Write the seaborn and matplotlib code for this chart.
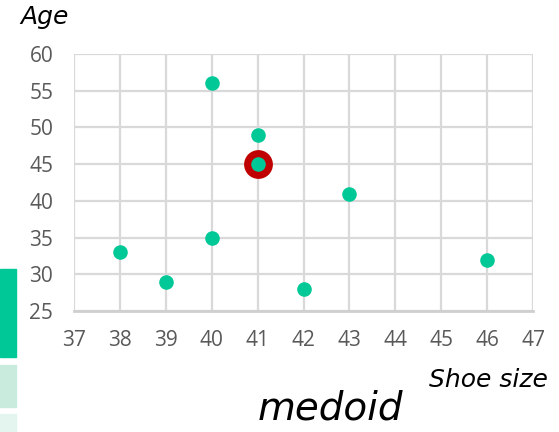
import matplotlib
matplotlib.use("Agg")
import matplotlib.pyplot as plt
import matplotlib.patches as mpatches
import seaborn as sns
import pandas as pd

shoe_size = [38, 39, 40, 40, 41, 41, 42, 43, 46]
age = [33, 29, 56, 35, 49, 45, 28, 41, 32]
medoid_shoe = [41]
medoid_age = [45]
x_ticks = list(range(37, 48))
y_ticks = list(range(25, 61, 5))

GREEN = "#00C896"
RED = "#C00000"
GRID = "#D9D9D9"
TICK = "#595959"

sns.set_theme(style="white")
plt.rcParams["font.family"] = ["Open Sans", "DejaVu Sans"]

fig = plt.figure(figsize=(5.59, 4.32), dpi=100)
ax = fig.add_axes([74 / 559, 1 - 311 / 432, 459 / 559, 257 / 432])

df = pd.DataFrame({"shoe": shoe_size, "age": age})
mdf = pd.DataFrame({"shoe": medoid_shoe, "age": medoid_age})

sns.scatterplot(data=mdf, x="shoe", y="age", ax=ax, s=430, color=RED,
                linewidth=0, zorder=3, legend=False)
sns.scatterplot(data=df, x="shoe", y="age", ax=ax, s=110, color=GREEN,
                linewidth=0, zorder=4, legend=False)

ax.set_xlim(37, 47)
ax.set_ylim(25, 60)
ax.set_xticks(x_ticks)
ax.set_yticks(y_ticks)
ax.grid(True, color=GRID, linewidth=1.6)
ax.set_axisbelow(True)
for side in ["top", "right", "left"]:
    ax.spines[side].set_visible(False)
ax.spines["bottom"].set_color("#CFCFCF")
ax.spines["bottom"].set_linewidth(2)
ax.tick_params(axis="both", length=0, labelsize=15, labelcolor=TICK)
ax.tick_params(axis="x", pad=14)
ax.tick_params(axis="y", pad=15)
ax.set_xlabel("")
ax.set_ylabel("")

hand = dict(family=["DejaVu Sans"], style="italic", color="black")
fig.text(20 / 559, 1 - 17 / 432, "Age", fontsize=18, ha="left", va="center", **hand)
fig.text(548 / 559, 1 - 380 / 432, "Shoe size", fontsize=18, ha="right", va="center", **hand)
fig.text(258 / 559, 1 - 409 / 432, "medoid", fontsize=28, ha="left", va="center", **hand)

# colour swatches along the left edge
for y0, y1, c in [(269, 357, GREEN), (365, 407, "#C8EBDD"), (414, 432, "#E3F5EE")]:
    fig.patches.append(mpatches.Rectangle((0, 1 - y1 / 432), 16 / 559, (y1 - y0) / 432,
                                          transform=fig.transFigure, color=c, zorder=0))

fig.savefig("out.png", dpi=100)
